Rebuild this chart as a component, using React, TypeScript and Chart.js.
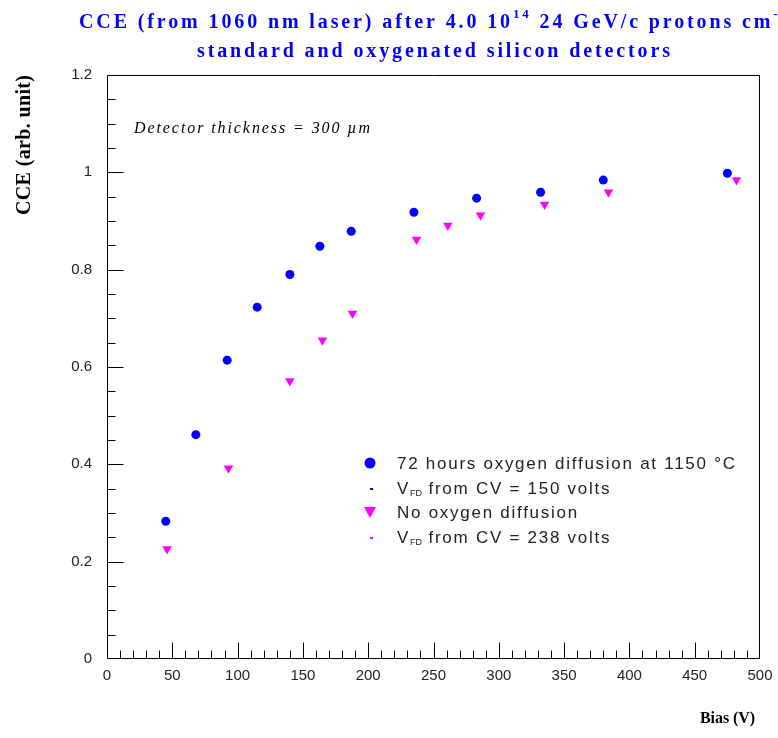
import React, { useEffect, useRef } from "react";
import { Chart, registerables } from "chart.js";
Chart.register(...registerables);

const oxyBias = [45, 68, 92, 115, 140, 163, 187, 235, 283, 332, 380, 475];
const oxyCCE = [0.283, 0.461, 0.614, 0.723, 0.79, 0.848, 0.879, 0.918, 0.947, 0.959, 0.984, 0.998];
const stdBias = [46, 93, 140, 165, 188, 237, 261, 286, 335, 384, 482];
const stdCCE = [0.226, 0.392, 0.571, 0.655, 0.71, 0.862, 0.891, 0.912, 0.934, 0.959, 0.984];

const titleLine1a = "CCE (from 1060 nm laser) after 4.0 10";
const titleSup1 = "14";
const titleLine1b = " 24 GeV/c protons cm";
const titleSup2 = "-2";
const titleLine2 = "standard and oxygenated silicon detectors";
const yTitle = "CCE (arb. unit)";
const xTitle = "Bias (V)";
const note = "Detector thickness = 300 \u00b5m";
const legend1 = "72 hours oxygen diffusion at 1150 \u00b0C";
const legend2 = " from CV = 150 volts";
const legend3 = "No oxygen diffusion";
const legend4 = " from CV = 238 volts";

const BLUE = "#0000ff";
const MAGENTA = "#ff00ff";

function spacingFor(ctx: CanvasRenderingContext2D, text: string, target: number) {
  (ctx as any).letterSpacing = "0px";
  const w = ctx.measureText(text).width;
  return (target - w) / Math.max(1, text.length - 1);
}

function drawText(ctx: CanvasRenderingContext2D, text: string, x: number, y: number, sp: number) {
  (ctx as any).letterSpacing = sp + "px";
  ctx.fillText(text, x, y);
  const w = ctx.measureText(text).width;
  return x + w;
}

const overlay = {
  id: "overlay",
  afterDraw(chart: any) {
    const ctx: CanvasRenderingContext2D = chart.ctx;
    const { left, top, right, bottom } = chart.chartArea;
    const xs = chart.scales.x;
    const ys = chart.scales.y;
    ctx.save();
    ctx.strokeStyle = "#000";
    ctx.lineWidth = 1;
    const L = Math.round(left) + 0.5, R = Math.round(right) - 0.5;
    const T = Math.round(top) + 0.5, B = Math.round(bottom) - 0.5;
    ctx.beginPath();
    ctx.rect(L, T, R - L, B - T);
    ctx.stroke();
    ctx.beginPath();
    for (let v = 10; v < 500; v += 10) {
      const px = Math.round(xs.getPixelForValue(v)) + 0.5;
      const len = v % 50 === 0 ? 16 : 8;
      ctx.moveTo(px, B);
      ctx.lineTo(px, B - len);
    }
    for (let i = 1; i < 24; i++) {
      const v = i * 0.05;
      const py = Math.round(ys.getPixelForValue(v)) + 0.5;
      const len = i % 4 === 0 ? 16 : 8;
      ctx.moveTo(L, py);
      ctx.lineTo(L + len, py);
    }
    ctx.stroke();

    // Title
    ctx.fillStyle = BLUE;
    ctx.textBaseline = "alphabetic";
    ctx.textAlign = "left";
    ctx.font = "bold 20px 'Liberation Serif'";
    const sp = spacingFor(ctx, titleLine2, 473);
    drawText(ctx, titleLine2, 197, 57, sp);
    let x = drawText(ctx, titleLine1a, 79, 28, sp);
    ctx.font = "bold 13px 'Liberation Serif'";
    x = drawText(ctx, titleSup1, x, 18, sp);
    ctx.font = "bold 20px 'Liberation Serif'";
    x = drawText(ctx, titleLine1b, x, 28, sp);
    ctx.font = "bold 13px 'Liberation Serif'";
    drawText(ctx, titleSup2, x, 18, sp);

    // Y title
    ctx.fillStyle = "#000";
    ctx.save();
    ctx.translate(30, 215);
    ctx.rotate(-Math.PI / 2);
    ctx.font = "bold 20px 'Liberation Serif'";
    const spy = spacingFor(ctx, yTitle, 140);
    drawText(ctx, yTitle, 0, 0, spy);
    ctx.restore();

    // X title
    ctx.font = "bold 16px 'Liberation Serif'";
    const spx = spacingFor(ctx, xTitle, 55);
    drawText(ctx, xTitle, 700, 723, spx);

    // Note
    ctx.font = "italic 16px 'Liberation Serif'";
    const spn = spacingFor(ctx, note, 236);
    drawText(ctx, note, 134, 133, spn);

    // Legend
    ctx.fillStyle = "#222";
    ctx.font = "17px 'Liberation Sans'";
    const spl = spacingFor(ctx, legend1, 338);
    ctx.textBaseline = "middle";
    drawText(ctx, legend1, 397, 464, spl);
    let lx = drawText(ctx, "V", 397, 489, spl);
    ctx.font = "9px 'Liberation Sans'";
    lx = drawText(ctx, "FD", lx, 494, 0);
    ctx.font = "17px 'Liberation Sans'";
    drawText(ctx, legend2, lx, 489, spl);
    drawText(ctx, legend3, 397, 513, spl);
    lx = drawText(ctx, "V", 397, 538, spl);
    ctx.font = "9px 'Liberation Sans'";
    lx = drawText(ctx, "FD", lx, 543, 0);
    ctx.font = "17px 'Liberation Sans'";
    drawText(ctx, legend4, lx, 538, spl);
    (ctx as any).letterSpacing = "0px";

    ctx.fillStyle = BLUE;
    ctx.beginPath();
    ctx.arc(370, 463, 5.5, 0, Math.PI * 2);
    ctx.fill();
    ctx.fillRect(370, 488, 3, 2);
    ctx.fillStyle = MAGENTA;
    ctx.beginPath();
    ctx.moveTo(364, 507);
    ctx.lineTo(376, 507);
    ctx.lineTo(370, 518);
    ctx.closePath();
    ctx.fill();
    ctx.fillRect(370, 537, 3, 2);
    ctx.restore();
  },
};

export default function App() {
  const ref = useRef<HTMLCanvasElement>(null);
  useEffect(() => {
    if (!ref.current) return;
    const chart = new Chart(ref.current, {
      type: "scatter",
      data: {
        datasets: [
          {
            label: legend1,
            data: oxyBias.map((b, i) => ({ x: b, y: oxyCCE[i] })),
            pointStyle: "circle",
            pointRadius: 4.5,
            backgroundColor: BLUE,
            borderColor: BLUE,
            borderWidth: 0,
          },
          {
            label: legend3,
            data: stdBias.map((b, i) => ({ x: b, y: stdCCE[i] })),
            pointStyle: "triangle",
            pointRotation: 180,
            pointRadius: 5.5,
            backgroundColor: MAGENTA,
            borderColor: MAGENTA,
            borderWidth: 0,
          },
        ],
      },
      options: {
        animation: false,
        responsive: false,
        devicePixelRatio: 1,
        layout: { padding: { left: 67, top: 75, right: 18, bottom: 49 } },
        plugins: { legend: { display: false }, tooltip: { enabled: false }, title: { display: false } },
        scales: {
          x: {
            type: "linear",
            min: 0,
            max: 500,
            afterFit: (s: any) => { s.height = 30; s.paddingRight = 0; s.paddingLeft = 0; },
            grid: { display: false, drawTicks: false },
            border: { display: false },
            ticks: { stepSize: 50, padding: 8, color: "#222", font: { family: "'Liberation Sans'", size: 15 } },
          },
          y: {
            type: "linear",
            min: 0,
            max: 1.2,
            afterFit: (s: any) => { s.width = 40; s.paddingTop = 0; s.paddingBottom = 0; },
            grid: { display: false, drawTicks: false },
            border: { display: false },
            ticks: {
              stepSize: 0.2,
              padding: 15,
              color: "#222",
              font: { family: "'Liberation Sans'", size: 15 },
              callback: (v: any) => String(Math.round(Number(v) * 100) / 100),
            },
          },
        },
      },
      plugins: [overlay],
    });
    return () => chart.destroy();
  }, []);
  return (
    <div style={{ position: "absolute", left: 0, top: 0, width: 778, height: 738, background: "#fff" }}>
      <canvas ref={ref} width={778} height={738} />
    </div>
  );
}
